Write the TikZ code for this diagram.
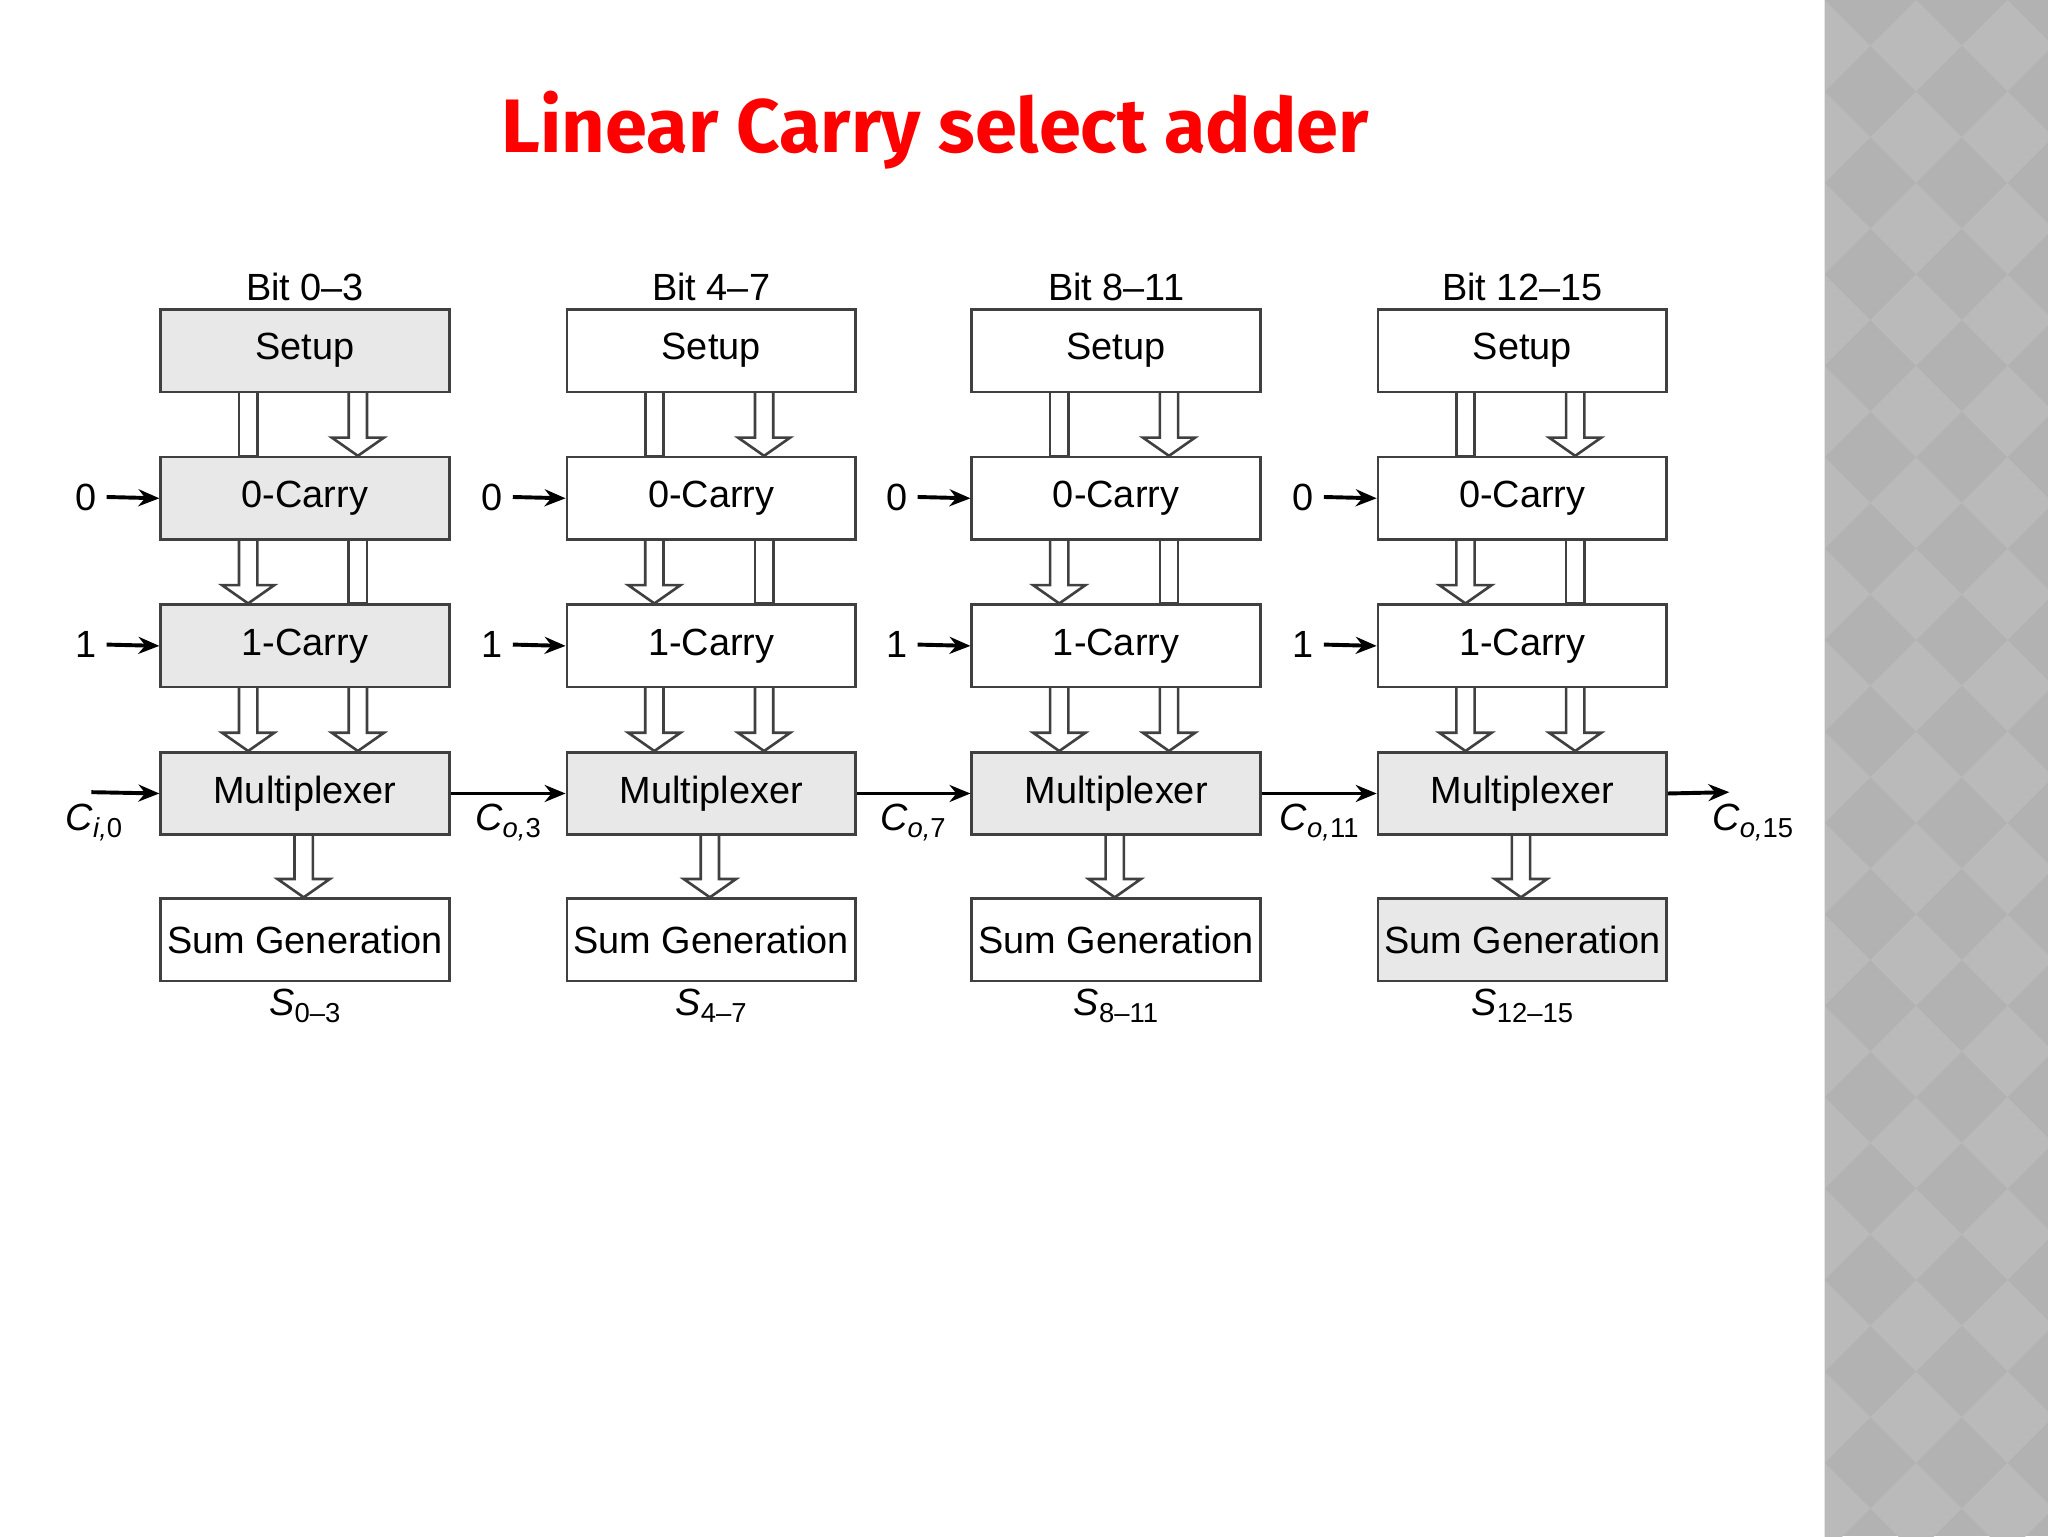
\documentclass[tikz,border=0pt]{standalone}
\usepackage{fontspec}
\usetikzlibrary{arrows.meta}
\setmainfont{Liberation Sans}
\newfontfamily\titlefont{Fira Sans}
\newcommand{\lbl}[2]{{\itshape #1}\raisebox{-0.35ex}{\fontsize{21}{21}\selectfont #2}}
\begin{document}
\begin{tikzpicture}[x=1pt,y=-1pt,
  blk/.style={draw=black!75,line width=2pt,minimum width=221pt,minimum height=63pt,inner sep=0pt,font=\fontsize{29}{32}\selectfont},
  gr/.style={fill=black!9},
  wh/.style={fill=white},
  thin/.style={-{Stealth[length=16pt,width=13pt]},line width=3pt},
  lab/.style={font=\fontsize{29}{32}\selectfont}]
\useasboundingbox (0,0) rectangle (1568,1176);
\fill[white] (0,0) rectangle (1568,1176);
% side panel
\fill[black!30] (1397,0) rectangle (1568,1176);
\begin{scope}
\clip (1397,0) rectangle (1568,1176);
\foreach \i in {0,...,3}{\foreach \j in {0,...,17}{
  \fill[black!27] ({1397+\i*70},{\j*70}) -- ++(35,35) -- ++(-35,35) -- ++(-35,-35) -- cycle;}}
\end{scope}
\node[text=red,font=\titlefont\bfseries\fontsize{58}{70}\selectfont] (title) at (716,100) {Linear Carry select adder};
\newcommand{\hollow}[3]{% x, ytop, ybottom
  \filldraw[fill=white,draw=black!75,line width=2pt] (#1-7,#2) -- (#1-7,#3-14) -- (#1-20,#3-14) -- (#1,#3) -- (#1+20,#3-14) -- (#1+7,#3-14) -- (#1+7,#2);}
\newcommand{\shaft}[3]{%
  \filldraw[fill=white,draw=black!75,line width=2pt] (#1-7,#2) rectangle (#1+7,#3);}
\foreach \c/\x/\bits/\s/\fa/\fb/\fc in {1/122/{0--3}/{0--3}/gr/gr/wh, 2/433/{4--7}/{4--7}/wh/gr/wh, 3/743/{8--11}/{8--11}/wh/gr/wh, 4/1054/{12--15}/{12--15}/wh/gr/gr}{
  \pgfmathsetmacro{\cx}{\x+110.5}
  \pgfmathsetmacro{\la}{\x+68}
  \pgfmathsetmacro{\ra}{\x+152}
  \shaft{\la}{299}{349}
  \shaft{\ra}{412}{462}
  \hollow{\ra}{299}{349}
  \hollow{\la}{412}{462}
  \hollow{\la}{525}{575}
  \hollow{\ra}{525}{575}
  \hollow{\cx}{637}{687}
  \node[blk,\fa,anchor=north west] (setup\c) at (\x,236) {Setup};
  \node[blk,\fa,anchor=north west] (zc\c) at (\x,349) {0-Carry};
  \node[blk,\fa,anchor=north west] (oc\c) at (\x,462) {1-Carry};
  \node[blk,\fb,anchor=north west] (mux\c) at (\x,575) {Multiplexer};
  \node[blk,\fc,anchor=north west] (sum\c) at (\x,687) {Sum Generation};
  \node[lab,anchor=south] (bit\c) at ([yshift=2pt]setup\c.north) {Bit \bits};
  \node[lab,anchor=north] (s\c) at ([yshift=-2pt]sum\c.south) {\lbl{S}{\s}};
  \node[lab] (z\c) at (\x-56,380.5) {0};
  \node[lab] (o\c) at (\x-56,493.5) {1};
  \draw[thin] ([xshift=4pt]z\c.east) -- (zc\c.west);
  \draw[thin] ([xshift=4pt]o\c.east) -- (oc\c.west);
}
\coordinate (cin) at (70,606.5);
\coordinate (cout) at (1324,606.5);
\draw[thin] (cin) -- (mux1.west);
\draw[thin] (mux1.east) -- (mux2.west);
\draw[thin] (mux2.east) -- (mux3.west);
\draw[thin] (mux3.east) -- (mux4.west);
\draw[thin] (mux4.east) -- (cout);
\node[lab] (ci) at (72,630) {\lbl{C}{\itshape i,\upshape 0}};
\node[lab] (co3) at (389,630) {\lbl{C}{\itshape o,\upshape 3}};
\node[lab] (co7) at (699,630) {\lbl{C}{\itshape o,\upshape 7}};
\node[lab] (co11) at (1010,630) {\lbl{C}{\itshape o,\upshape 11}};
\node[lab] (co15) at (1342,630) {\lbl{C}{\itshape o,\upshape 15}};
\end{tikzpicture}
\end{document}
